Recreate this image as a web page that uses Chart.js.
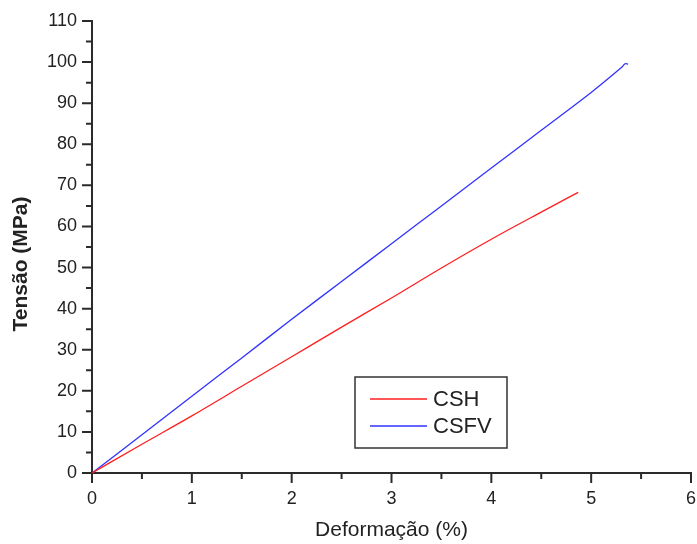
<!DOCTYPE html>
<html>
<head>
<meta charset="utf-8">
<script src="https://cdn.jsdelivr.net/npm/chart.js@4/dist/chart.umd.min.js"></script>
<style>
  html, body { margin: 0; padding: 0; background: #fff; }
  #wrap { width: 697px; height: 544px; }
</style>
</head>
<body>
<div id="wrap"><canvas id="c" width="697" height="544"></canvas></div>
<script>
// Stress-strain curves (strain in %, stress in MPa)
const cshStrain  = [0, 0.5, 1, 1.5, 2, 2.5, 3, 3.5, 4, 4.5, 4.87];
const cshStress  = [0, 7.0, 13.9, 21.1, 28.3, 35.5, 42.6, 49.9, 56.9, 63.5, 68.3];
const csfvStrain = [0, 0.5, 1, 1.5, 2, 2.5, 3, 3.5, 4, 4.5, 5, 5.3, 5.34, 5.37];
const csfvStress = [0, 9.3, 18.7, 28.0, 37.4, 46.6, 55.8, 65.0, 74.2, 83.4, 92.6, 98.6, 99.6, 99.5];
const seriesNames = ['CSH', 'CSFV'];
const xTickValues = [0, 1, 2, 3, 4, 5, 6];
const yTickValues = [0, 10, 20, 30, 40, 50, 60, 70, 80, 90, 100, 110];
const xTitle = 'Deformação (%)';
const yTitle = 'Tensão (MPa)';

const FONT = "'Liberation Sans', Arial, sans-serif";
const INK = '#2b2b2b';

const toPoints = (xs, ys) => xs.map((x, i) => ({ x: x, y: ys[i] }));

// Outward major/minor ticks on both axes
const tickMarks = {
  id: 'tickMarks',
  afterDraw(chart) {
    const ctx = chart.ctx;
    const xs = chart.scales.x, ys = chart.scales.y;
    const area = chart.chartArea;
    ctx.save();
    ctx.strokeStyle = INK;
    ctx.lineWidth = 2;
    ctx.beginPath();
    for (let i = 0; i < xTickValues.length; i++) {
      const v = xTickValues[i];
      const px = xs.getPixelForValue(v);
      ctx.moveTo(px, area.bottom); ctx.lineTo(px, area.bottom + 10);
      if (i < xTickValues.length - 1) {
        const pm = xs.getPixelForValue((v + xTickValues[i + 1]) / 2);
        ctx.moveTo(pm, area.bottom); ctx.lineTo(pm, area.bottom + 6);
      }
    }
    for (let i = 0; i < yTickValues.length; i++) {
      const v = yTickValues[i];
      const py = ys.getPixelForValue(v);
      ctx.moveTo(area.left, py); ctx.lineTo(area.left - 10, py);
      if (i < yTickValues.length - 1) {
        const pm = ys.getPixelForValue((v + yTickValues[i + 1]) / 2);
        ctx.moveTo(area.left, pm); ctx.lineTo(area.left - 6, pm);
      }
    }
    ctx.stroke();
    ctx.restore();
  }
};

// Axis titles
const axisTitles = {
  id: 'axisTitles',
  afterDraw(chart) {
    const ctx = chart.ctx;
    const area = chart.chartArea;
    ctx.save();
    ctx.fillStyle = '#222';
    ctx.textAlign = 'center';
    ctx.textBaseline = 'middle';
    ctx.font = '21px ' + FONT;
    ctx.fillText(xTitle, (area.left + area.right) / 2, 530);
    ctx.translate(21, 264);
    ctx.rotate(-Math.PI / 2);
    ctx.font = 'bold 21px ' + FONT;
    ctx.fillText(yTitle, 0, 0);
    ctx.restore();
  }
};

// Boxed legend inside the plot
const boxLegend = {
  id: 'boxLegend',
  afterDraw(chart) {
    const ctx = chart.ctx;
    const bx = 355, by = 377, bw = 152, bh = 71;
    ctx.save();
    ctx.strokeStyle = '#333';
    ctx.lineWidth = 1.5;
    ctx.strokeRect(bx, by, bw, bh);
    ctx.font = '22px ' + FONT;
    ctx.textBaseline = 'middle';
    chart.data.datasets.forEach((ds, i) => {
      const y = by + 22 + i * 27;
      ctx.strokeStyle = ds.borderColor;
      ctx.lineWidth = 1.3;
      ctx.beginPath();
      ctx.moveTo(bx + 15, y); ctx.lineTo(bx + 72, y);
      ctx.stroke();
      ctx.fillStyle = '#222';
      ctx.fillText(ds.label, bx + 78, y + 1);
    });
    ctx.restore();
  }
};

new Chart(document.getElementById('c'), {
  type: 'line',
  data: {
    datasets: [
      { label: seriesNames[0], data: toPoints(cshStrain, cshStress), borderColor: 'rgb(255,30,30)', borderWidth: 1.3, pointRadius: 0, cubicInterpolationMode: 'monotone', fill: false },
      { label: seriesNames[1], data: toPoints(csfvStrain, csfvStress), borderColor: 'rgb(50,50,255)', borderWidth: 1.3, pointRadius: 0, tension: 0.3, fill: false }
    ]
  },
  options: {
    responsive: false,
    animation: false,
    layout: { padding: { top: 21, right: 6, left: 0, bottom: 0 } },
    plugins: { legend: { display: false }, tooltip: { enabled: false } },
    scales: {
      x: {
        type: 'linear', min: 0, max: 6,
        afterBuildTicks: s => { s.ticks = xTickValues.map(v => ({ value: v })); },
        afterFit: s => { s.height = 71; s.paddingLeft = 0; s.paddingRight = 0; },
        grid: { display: false },
        border: { display: true, color: INK, width: 2 },
        ticks: { color: '#222', font: { family: FONT, size: 18 }, padding: 7, maxRotation: 0 },
        title: { display: false }
      },
      y: {
        type: 'linear', min: 0, max: 110,
        afterBuildTicks: s => { s.ticks = yTickValues.map(v => ({ value: v })); },
        afterFit: s => { s.width = 92; s.paddingTop = 0; s.paddingBottom = 0; },
        grid: { display: false },
        border: { display: true, color: INK, width: 2 },
        ticks: { color: '#222', font: { family: FONT, size: 18 }, padding: 7 },
        title: { display: false }
      }
    }
  },
  plugins: [tickMarks, axisTitles, boxLegend]
});
</script>
</body>
</html>
